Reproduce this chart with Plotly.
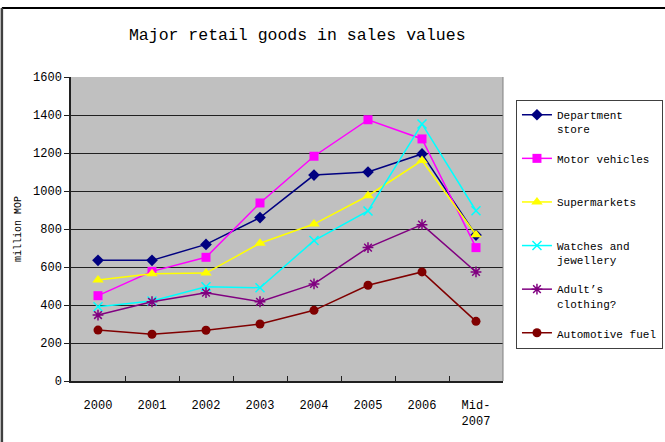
import plotly.graph_objects as go

# Retail sales by category, million MOP
periods = ["2000", "2001", "2002", "2003", "2004", "2005", "2006", "Mid-<br>2007"]

department_store = [635, 635, 719, 860, 1084, 1100, 1195, 768]
motor_vehicles = [449, 577, 651, 937, 1183, 1375, 1274, 702]
supermarkets = [532, 565, 568, 725, 826, 975, 1160, 770]
watches_jewellery = [391, 421, 496, 491, 739, 895, 1353, 896]
adults_clothing = [347, 417, 465, 417, 511, 702, 823, 574]
automotive_fuel = [268, 246, 267, 300, 372, 504, 574, 314]

series = [
    ("Department<br>store", department_store, "#000080", "diamond", 9),
    ("Motor vehicles<br> ", motor_vehicles, "#FF00FF", "square", 9),
    ("Supermarkets<br> ", supermarkets, "#FFFF00", "triangle-up", 10),
    ("Watches and<br>jewellery", watches_jewellery, "#00FFFF", "x-thin", 9),
    ("Adult’s<br>clothing?", adults_clothing, "#800080", "asterisk", 9),
    ("Automotive fuel", automotive_fuel, "#800000", "circle", 9),
]

FONT = "Liberation Mono, DejaVu Sans Mono, monospace"

fig = go.Figure()
for i, (name, vals, color, sym, size) in enumerate(series):
    thin = sym in ("x-thin", "asterisk")
    fig.add_trace(go.Scatter(
        x=periods, y=vals, name=name, mode="lines+markers",
        legendgroup=f"g{i}",
        line=dict(color=color, width=1.5),
        marker=dict(symbol=sym, size=size, color=color,
                    line=dict(color=color, width=1.5 if thin else 0)),
    ))

fig.update_layout(
    width=665, height=442,
    margin=dict(l=71, r=162, t=77, b=61, autoexpand=False),
    paper_bgcolor="white",
    plot_bgcolor="#C0C0C0",
    font=dict(family=FONT, size=12, color="black"),
    title=dict(text="Major retail goods in sales values", x=0.447, xanchor="center",
               y=0.922, yanchor="middle",
               font=dict(family=FONT, size=16.5, color="black")),
    showlegend=True,
    legend=dict(
        x=1.03, xanchor="left", y=0.924, yanchor="top",
        bgcolor="white", bordercolor="#404040", borderwidth=1,
        font=dict(family=FONT, size=11, color="black"),
        valign="top", tracegroupgap=12, itemwidth=30, maxheight=400,
    ),
    xaxis=dict(
        type="category", showgrid=False, showline=True, linecolor="#202020", linewidth=1.5,
        ticks="inside", tickson="boundaries", ticklen=5, tickcolor="#202020",
        ticklabelstandoff=12, tickfont=dict(family=FONT, size=12),
        range=[-0.5, 7.5], mirror=False,
    ),
    yaxis=dict(
        range=[0, 1600], dtick=200, showgrid=True, gridcolor="#202020", gridwidth=1,
        showline=True, linecolor="#202020", linewidth=1.5,
        ticks="outside", ticklen=5, tickcolor="#202020",
        tickfont=dict(family=FONT, size=12), zeroline=False,
        title=dict(text="million MOP", font=dict(family=FONT, size=10), standoff=10),
    ),
    shapes=[
        # outer chart frame (top and left edges)
        dict(type="line", xref="x domain", yref="y domain", x0=-0.16, x1=1.6,
             y0=1.227, y1=1.227, line=dict(color="black", width=2)),
        dict(type="line", xref="x domain", yref="y domain", x0=-0.16, x1=-0.16,
             y0=-0.3, y1=1.227, line=dict(color="#404040", width=2.5)),
        # right edge of plot area
        dict(type="line", xref="x domain", yref="y domain", x0=1, x1=1, y0=0, y1=1,
             line=dict(color="#808080", width=1)),
    ],
)

fig.write_html("out.html")
